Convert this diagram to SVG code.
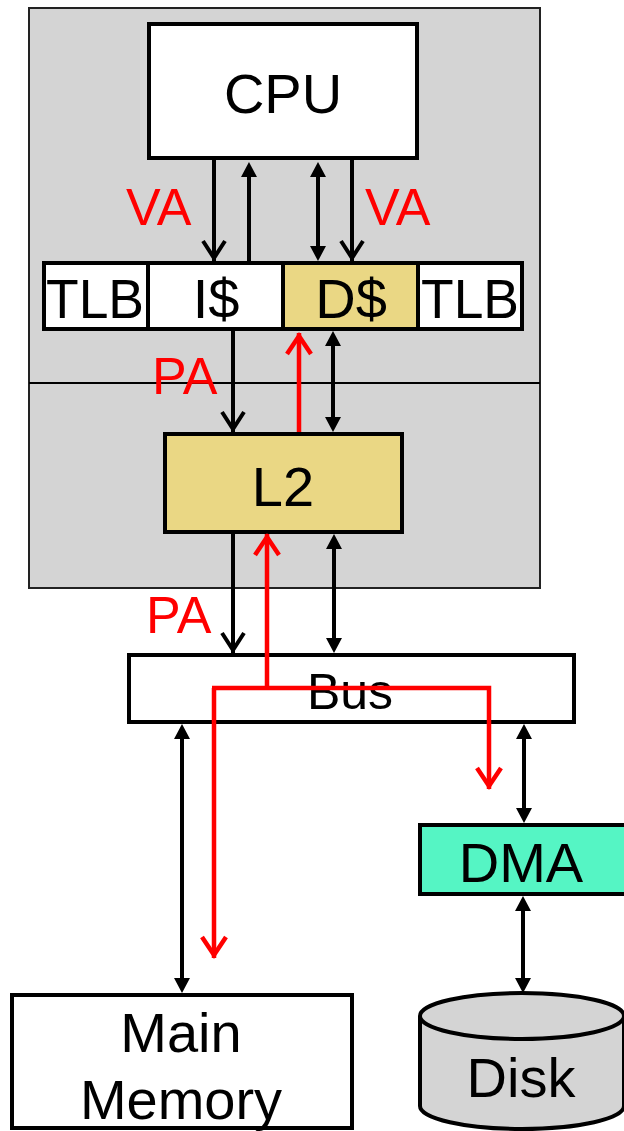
<svg xmlns="http://www.w3.org/2000/svg" width="624" height="1131" viewBox="0 0 624 1131">
<style>
.box{stroke:#000;stroke-width:4;fill:#fff}
.kh{fill:#EAD784}
.t{font-family:"Liberation Sans",Arial,sans-serif;font-size:56px;fill:#000;text-anchor:middle}
.r{font-family:"Liberation Sans",Arial,sans-serif;font-size:52px;fill:#FF0000}
.bl{stroke:#000;stroke-width:4;fill:none}
.rd{stroke:#FF0000;stroke-width:4.5;fill:none}
</style>
<defs>
<marker id="chev" markerUnits="userSpaceOnUse" markerWidth="40" markerHeight="40" viewBox="-30 -20 40 40" refX="0" refY="0" orient="auto" overflow="visible">
<path d="M-20,-11 L-3,0 L-20,11" fill="none" stroke="#000" stroke-width="4"/>
</marker>
<marker id="chevR" markerUnits="userSpaceOnUse" markerWidth="40" markerHeight="40" viewBox="-30 -20 40 40" refX="0" refY="0" orient="auto" overflow="visible">
<path d="M-21,-12 L-3,0 L-21,12" fill="none" stroke="#FF0000" stroke-width="4.5"/>
</marker>
<marker id="tri" markerUnits="userSpaceOnUse" markerWidth="40" markerHeight="40" viewBox="-30 -20 40 40" refX="0" refY="0" orient="auto-start-reverse" overflow="visible">
<path d="M-11,-8 L4,0 L-11,8 Z" fill="#000"/>
</marker>
</defs>
<rect width="624" height="1131" fill="#fff"/>
<g id="chip">
<rect x="29" y="8" width="511" height="580" fill="#D4D4D4" stroke="#222" stroke-width="2"/>
<line x1="29" y1="383" x2="540" y2="383" stroke="#000" stroke-width="2"/>
</g>
<g id="cpu"><rect class="box" x="149" y="24" width="268" height="134"/><text class="t" x="283" y="113">CPU</text></g>
<g id="tlb-i"><rect class="box" x="44" y="263" width="104" height="66"/><text class="t" x="95" y="318" textLength="98" lengthAdjust="spacingAndGlyphs">TLB</text></g>
<g id="icache"><rect class="box" x="148" y="263" width="135" height="66"/><text class="t" x="216" y="318">I$</text></g>
<g id="dcache"><rect class="box kh" x="283" y="263" width="135" height="66"/><text class="t" x="351" y="318">D$</text></g>
<g id="tlb-d"><rect class="box" x="418" y="263" width="104" height="66"/><text class="t" x="470" y="318" textLength="98" lengthAdjust="spacingAndGlyphs">TLB</text></g>
<g id="l2"><rect class="box kh" x="165" y="434" width="237" height="98"/><text class="t" x="283" y="506">L2</text></g>
<g id="bus"><rect class="box" x="129" y="655" width="445" height="67"/><text class="t" x="350" y="709" style="font-size:50px">Bus</text></g>
<g id="dma"><rect class="box" x="420" y="825" width="210" height="69" style="fill:#55F5C4"/><text class="t" x="521" y="882">DMA</text></g>
<g id="memory"><rect class="box" x="12" y="995" width="340" height="133"/><text class="t" x="181" y="1052">Main</text><text class="t" x="181" y="1119">Memory</text></g>
<g id="disk">
<path d="M420,1016 L420,1106 A102,23 0 0 0 624,1106 L624,1016" fill="#D4D4D4" stroke="#000" stroke-width="4"/>
<ellipse cx="522" cy="1016" rx="102" ry="23" fill="#D4D4D4" stroke="#000" stroke-width="4"/>
<text class="t" x="521" y="1097">Disk</text>
</g>
<g id="labels">
<text class="r" x="126" y="225">VA</text>
<text class="r" x="365" y="225">VA</text>
<text class="r" x="152" y="394">PA</text>
<text class="r" x="146" y="633">PA</text>
</g>
<g id="connectors">
<line class="bl" x1="214" y1="160" x2="214" y2="261" marker-end="url(#chev)"/>
<line class="bl" x1="249" y1="262" x2="249" y2="166" marker-end="url(#tri)"/>
<line class="bl" x1="318" y1="166" x2="318" y2="257" marker-start="url(#tri)" marker-end="url(#tri)"/>
<line class="bl" x1="352" y1="160" x2="352" y2="261" marker-end="url(#chev)"/>
<line class="bl" x1="233" y1="331" x2="233" y2="432" marker-end="url(#chev)"/>
<line class="bl" x1="333" y1="335" x2="333" y2="428" marker-start="url(#tri)" marker-end="url(#tri)"/>
<line class="bl" x1="233" y1="534" x2="233" y2="653" marker-end="url(#chev)"/>
<line class="bl" x1="334" y1="538" x2="334" y2="649" marker-start="url(#tri)" marker-end="url(#tri)"/>
<line class="bl" x1="182" y1="728" x2="182" y2="989" marker-start="url(#tri)" marker-end="url(#tri)"/>
<line class="bl" x1="524" y1="728" x2="524" y2="819" marker-start="url(#tri)" marker-end="url(#tri)"/>
<line class="bl" x1="523" y1="900" x2="523" y2="989" marker-start="url(#tri)" marker-end="url(#tri)"/>
<line class="rd" x1="299" y1="432" x2="299" y2="333" marker-end="url(#chevR)"/>
<line class="rd" x1="267" y1="688" x2="267" y2="534" marker-end="url(#chevR)"/>
<path class="rd" d="M214,688 L214,958" marker-end="url(#chevR)"/>
<path class="rd" d="M212,688 L489,688 L489,789" marker-end="url(#chevR)"/>
</g>
</svg>
